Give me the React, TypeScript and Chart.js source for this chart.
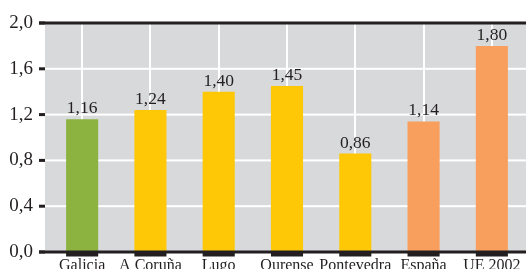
import React, { useEffect, useRef } from 'react';
import { Chart, registerables } from 'chart.js';

Chart.register(...registerables);

const categories = ['Galicia', 'A Coruña', 'Lugo', 'Ourense', 'Pontevedra', 'España', 'UE 2002'];
const values = [1.16, 1.24, 1.4, 1.45, 0.86, 1.14, 1.8];
const barColors = ['#8cb340', '#fec807', '#fec807', '#fec807', '#fec807', '#f89f5d', '#f89f5d'];
const yTicks = [0, 0.4, 0.8, 1.2, 1.6, 2.0];

const FONT = "'Liberation Serif', 'Times New Roman', serif";
const INK = '#231f20';
const BG = '#d8d9db';

const decorPlugin = {
  id: 'decor',
  beforeDraw(chart: any) {
    const { ctx, chartArea } = chart;
    ctx.save();
    ctx.fillStyle = BG;
    ctx.fillRect(45, chartArea.top, chartArea.right - 45, chartArea.bottom - chartArea.top);
    ctx.restore();
  },
  beforeDatasetsDraw(chart: any) {
    const { ctx, chartArea, scales } = chart;
    ctx.save();
    ctx.fillStyle = '#ffffff';
    yTicks.forEach((v) => {
      const y = scales.y.getPixelForValue(v);
      ctx.fillRect(45, y - 1, chartArea.right - 45, 2);
    });
    ctx.restore();
  },
  afterDatasetsDraw(chart: any) {
    const { ctx, chartArea, scales } = chart;
    ctx.save();
    ctx.fillStyle = INK;
    const yTop = scales.y.getPixelForValue(2.0);
    const yBot = scales.y.getPixelForValue(0);
    ctx.fillRect(39, yTop - 1.5, chartArea.right - 39, 3);
    ctx.fillRect(39, yBot - 1.5, chartArea.right - 39, 3);
    yTicks.forEach((v) => {
      const y = scales.y.getPixelForValue(v);
      ctx.fillRect(39, y - 1.5, 6, 3);
    });
    const meta = chart.getDatasetMeta(0);
    ctx.font = `17.5px ${FONT}`;
    ctx.textAlign = 'center';
    ctx.textBaseline = 'alphabetic';
    meta.data.forEach((el: any, i: number) => {
      const w = el.width;
      ctx.fillStyle = INK;
      ctx.fillRect(el.x - w / 2, yBot - 0.5, w, 5);
      ctx.fillText(values[i].toFixed(2).replace('.', ','), el.x, el.y - 6);
    });
    ctx.restore();
  },
};

export default function App() {
  const ref = useRef<HTMLCanvasElement | null>(null);
  useEffect(() => {
    if (!ref.current) return;
    const chart = new Chart(ref.current, {
      type: 'bar',
      data: {
        labels: categories,
        datasets: [
          {
            data: values,
            backgroundColor: barColors,
            borderWidth: 0,
            categoryPercentage: 1,
            barPercentage: 0.47,
          },
        ],
      },
      options: {
        animation: false,
        responsive: false,
        devicePixelRatio: 1,
        layout: { padding: { top: 23, left: 0, right: 0, bottom: 0 } },
        plugins: { legend: { display: false }, tooltip: { enabled: false } },
        scales: {
          x: {
            grid: { display: true, offset: false, drawTicks: false, color: '#ffffff', lineWidth: 2 },
            border: { display: false },
            ticks: {
              color: INK,
              font: { family: FONT, size: 16 },
              padding: 4,
              maxRotation: 0,
              autoSkip: false,
            },
            afterFit: (s: any) => {
              s.height = 17;
              s.paddingLeft = 0;
              s.paddingRight = 0;
            },
          },
          y: {
            min: 0,
            max: 2,
            grid: { display: false, drawTicks: false },
            border: { display: false },
            ticks: {
              stepSize: 0.4,
              color: INK,
              padding: 15,
              font: { family: FONT, size: 19 },
              callback: (v: any) => Number(v).toFixed(1).replace('.', ','),
            },
            afterFit: (s: any) => {
              s.width = 48;
              s.paddingTop = 0;
              s.paddingBottom = 0;
            },
          },
        },
      },
      plugins: [decorPlugin],
    });
    return () => chart.destroy();
  }, []);
  return (
    <div style={{ position: 'fixed', left: 0, top: 0, width: 526, height: 269, overflow: 'hidden', background: '#fff' }}>
      <canvas ref={ref} width={526} height={269} style={{ display: 'block' }} />
    </div>
  );
}
